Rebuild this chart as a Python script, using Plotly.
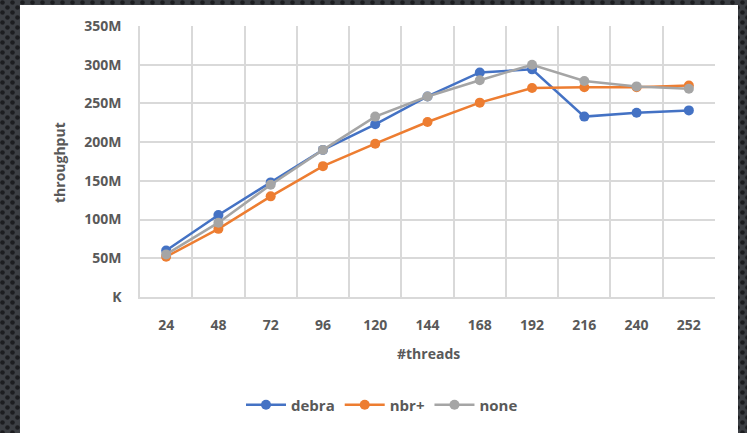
import base64
import plotly.graph_objects as go

# Thread counts on the x axis and throughput (millions of ops) per scheme
threads = ["24", "48", "72", "96", "120", "144", "168", "192", "216", "240", "252"]
debra = [60, 106, 148, 190, 223, 259, 290, 294, 233, 238, 241]
nbr_plus = [52, 88, 130, 169, 198, 226, 251, 270, 271, 271, 273]
none = [55, 96, 145, 190, 233, 259, 280, 300, 279, 272, 269]

y_ticks = [0, 50, 100, 150, 200, 250, 300, 350]
y_tick_text = ["K", "50M", "100M", "150M", "200M", "250M", "300M", "350M"]

series = [
    ("debra", debra, "#4472C4"),
    ("nbr+", nbr_plus, "#ED7D31"),
    ("none", none, "#A5A5A5"),
]

W, H = 747, 433
L, R, T, B = 140, 32, 26, 136
PW, PH = W - L - R, H - T - B

FONT = "Open Sans"
TXT = "#595959"
GRID = "#D9D9D9"
FS = 14


def px_to_paper_x(px):
    return (px - L) / PW


def py_to_paper_y(py):
    return (H - B - py) / PH


# dotted dark backdrop as an inline SVG pattern
svg = f"""<svg xmlns='http://www.w3.org/2000/svg' width='{W}' height='{H}'>
<defs><pattern id='d' width='10' height='10' patternUnits='userSpaceOnUse'>
<rect width='10' height='10' fill='#3c3f44'/>
<circle cx='2.5' cy='2.5' r='2.3' fill='#1c1d20'/>
<circle cx='7.5' cy='7.5' r='2.3' fill='#1c1d20'/>
</pattern></defs>
<rect width='{W}' height='{H}' fill='url(#d)'/>
</svg>"""
svg_uri = "data:image/svg+xml;base64," + base64.b64encode(svg.encode()).decode()

fig = go.Figure()
x_pos = list(range(len(threads)))
for name, vals, color in series:
    fig.add_trace(go.Scatter(
        x=x_pos, y=vals, name=name, mode="lines+markers",
        line=dict(color=color, width=2.5),
        marker=dict(color=color, size=10),
    ))

fig.update_layout(
    width=W, height=H,
    margin=dict(l=L, r=R, t=T, b=B),
    paper_bgcolor="#3c3f44",
    plot_bgcolor="white",
    font=dict(family=FONT, color=TXT, size=FS),
    showlegend=True,
    legend=dict(
        orientation="h", xanchor="center", yanchor="middle",
        x=px_to_paper_x(382), y=py_to_paper_y(405),
        font=dict(family=FONT, size=15, color=TXT, weight="bold"),
        bgcolor="rgba(0,0,0,0)", itemwidth=40, tracegroupgap=0,
    ),
    images=[dict(
        source=svg_uri, xref="paper", yref="paper",
        x=px_to_paper_x(0), y=py_to_paper_y(0),
        sizex=W / PW, sizey=H / PH,
        xanchor="left", yanchor="top", sizing="stretch", layer="below",
    )],
    shapes=[dict(
        type="rect", xref="paper", yref="paper", layer="below",
        x0=px_to_paper_x(20), x1=px_to_paper_x(738),
        y0=py_to_paper_y(433), y1=py_to_paper_y(5),
        fillcolor="white", line=dict(width=0),
    )],
    annotations=[
        dict(text="<b>throughput</b>", textangle=-90, xref="paper", yref="paper",
             x=px_to_paper_x(59), y=py_to_paper_y(163),
             xanchor="center", yanchor="middle", showarrow=False,
             font=dict(family=FONT, size=FS, color=TXT)),
        dict(text="<b>#threads</b>", xref="paper", yref="paper",
             x=px_to_paper_x(428), y=py_to_paper_y(353),
             xanchor="center", yanchor="middle", showarrow=False,
             font=dict(family=FONT, size=FS, color=TXT)),
    ],
)

fig.update_xaxes(
    range=[-0.5, len(threads) - 0.5],
    tickvals=x_pos, ticktext=threads,
    showgrid=False, zeroline=False,
    showline=True, linecolor=GRID, linewidth=1.5,
    ticks="outside", ticklen=14, tickcolor="rgba(0,0,0,0)",
    tickfont=dict(family=FONT, size=FS, color=TXT, weight="bold"),
    minor=dict(tick0=-0.5, dtick=1, showgrid=True, gridcolor=GRID, gridwidth=1.5),
)
fig.update_yaxes(
    range=[0, 350],
    tickvals=y_ticks, ticktext=y_tick_text,
    showgrid=True, gridcolor=GRID, gridwidth=1.5, zeroline=False,
    showline=True, linecolor=GRID, linewidth=1.5,
    ticks="outside", ticklen=14, tickcolor="rgba(0,0,0,0)",
    tickfont=dict(family=FONT, size=FS, color=TXT, weight="bold"),
)

fig.write_html("out.html")
